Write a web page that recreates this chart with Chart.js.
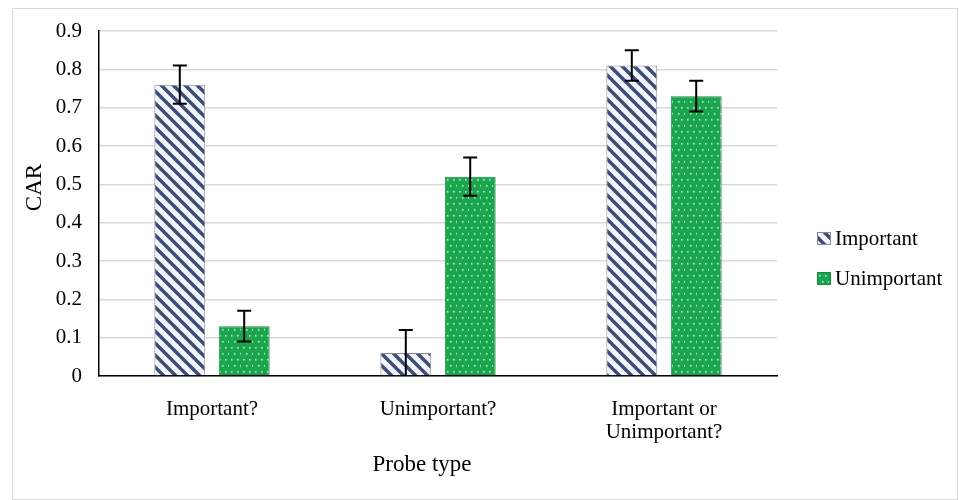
<!DOCTYPE html>
<html>
<head>
<meta charset="utf-8">
<script src="https://cdn.jsdelivr.net/npm/chart.js@4"></script>
<style>
  html, body { margin: 0; padding: 0; background: #fff; }
  #frame { position: absolute; left: 12px; top: 8px; width: 946px; height: 492px; border: 1px solid #d9d9d9; box-sizing: border-box; }
  canvas { display: block; }
</style>
</head>
<body>
<div id="frame"><canvas id="carChart" width="944" height="490"></canvas></div>
<script>
"use strict";
const categories = ['Important?', 'Unimportant?', ['Important or', 'Unimportant?']];
const seriesNames = ['Important', 'Unimportant'];
const importantVals = [0.76, 0.06, 0.81];
const importantErr = [0.05, 0.06, 0.04];
const unimportantVals = [0.13, 0.52, 0.73];
const unimportantErr = [0.04, 0.05, 0.04];
const yMax = 0.9;
const yStep = 0.1;
const xTitle = 'Probe type';
const yTitle = 'CAR';

const FONT = '"Liberation Serif", "Times New Roman", serif';

// diagonal hatch, navy stripes on a pale background
function makeHatch() {
    const c = document.createElement('canvas');
    c.width = 12; c.height = 12;
    const g = c.getContext('2d');
    g.fillStyle = '#f2f7ff';
    g.fillRect(0, 0, 12, 12);
    g.strokeStyle = '#3d4c77';
    g.lineWidth = 3.5;
    g.beginPath();
    g.moveTo(-3, -3); g.lineTo(15, 15);
    g.moveTo(-3, 9); g.lineTo(3, 15);
    g.moveTo(9, -3); g.lineTo(15, 3);
    g.stroke();
    return g.createPattern(c, 'repeat');
}

// green fill with small staggered light dots
function makeDots() {
    const c = document.createElement('canvas');
    c.width = 12; c.height = 12;
    const g = c.getContext('2d');
    g.fillStyle = '#1ca54f';
    g.fillRect(0, 0, 12, 12);
    g.fillStyle = '#b8ebc7';
    [[2, 2], [8, 2], [5, 8], [11, 8]].forEach(([px, py]) => g.fillRect(px, py, 1.6, 1.6));
    return g.createPattern(c, 'repeat');
}

const errorBars = {
    id: 'errorBars',
    afterDatasetsDraw(chart) {
        const ctx = chart.ctx;
        const yScale = chart.scales.y;
        const errs = [importantErr, unimportantErr];
        ctx.save();
        ctx.strokeStyle = '#000';
        ctx.lineWidth = 2;
        chart.data.datasets.forEach((ds, di) => {
            const meta = chart.getDatasetMeta(di);
            meta.data.forEach((bar, i) => {
                const v = ds.data[i], e = errs[di][i];
                const yTop = yScale.getPixelForValue(v + e);
                const yBot = yScale.getPixelForValue(Math.max(0, v - e));
                ctx.beginPath();
                ctx.moveTo(bar.x, yTop); ctx.lineTo(bar.x, yBot);
                ctx.moveTo(bar.x - 7, yTop); ctx.lineTo(bar.x + 7, yTop);
                if (v - e > 0) { ctx.moveTo(bar.x - 7, yBot); ctx.lineTo(bar.x + 7, yBot); }
                ctx.stroke();
            });
        });
        ctx.restore();
    }
};

// legend and axis titles drawn by hand: the reference places them off the usual spots
const sideLegend = {
    id: 'sideLegend',
    afterDraw(chart) {
        const ctx = chart.ctx;
        const area = chart.chartArea;
        const x = area.right + 40;
        const midY = chart.height / 2 + 5;
        ctx.save();
        ctx.font = '21px ' + FONT;
        ctx.textBaseline = 'middle';
        chart.data.datasets.forEach((ds, i) => {
            const y = midY + (i - 0.5) * 40;
            ctx.fillStyle = ds.backgroundColor;
            ctx.fillRect(x, y - 7, 14, 13);
            ctx.strokeStyle = ds.borderColor;
            ctx.lineWidth = 1;
            ctx.strokeRect(x + 0.5, y - 6.5, 13, 12);
            ctx.fillStyle = '#000';
            ctx.fillText(ds.label, x + 18, y);
        });
        ctx.font = '23px ' + FONT;
        ctx.textAlign = 'center';
        ctx.fillText(xTitle, (area.left + area.right) / 2 - 16, area.bottom + 89);
        ctx.translate(22, (area.top + area.bottom) / 2 - 16);
        ctx.rotate(-Math.PI / 2);
        ctx.fillText(yTitle, 0, 0);
        ctx.restore();
    }
};

const ctx = document.getElementById('carChart').getContext('2d');
new Chart(ctx, {
    type: 'bar',
    data: {
        labels: categories,
        datasets: [
            { label: seriesNames[0], data: importantVals, backgroundColor: makeHatch(), borderColor: '#8c8c8c', borderWidth: 1 },
            { label: seriesNames[1], data: unimportantVals, backgroundColor: makeDots(), borderColor: '#178a40', borderWidth: 1 }
        ]
    },
    options: {
        responsive: false,
        animation: false,
        categoryPercentage: 0.57,
        barPercentage: 0.79,
        layout: { padding: { top: 22, left: 0, right: 180, bottom: 0 } },
        plugins: {
            legend: { display: false },
            tooltip: { enabled: false }
        },
        scales: {
            x: {
                grid: { display: false },
                border: { color: '#000', width: 1.5 },
                ticks: { font: { family: FONT, size: 21, lineHeight: 1.1 }, color: '#000', padding: 14, maxRotation: 0 },
                afterFit(scale) { scale.height = 123; scale.paddingTop = 0; scale.paddingBottom = 0; }
            },
            y: {
                min: 0, max: yMax,
                grid: { color: '#d9d9d9', lineWidth: 1.5, drawTicks: false },
                border: { color: '#000', width: 1.5 },
                ticks: { stepSize: yStep, font: { family: FONT, size: 21 }, color: '#000', padding: 17,
                    callback: v => v === 0 ? '0' : v.toFixed(1) },
                afterFit(scale) { scale.width = 86; scale.paddingTop = 0; scale.paddingBottom = 0; }
            }
        }
    },
    plugins: [errorBars, sideLegend]
});
</script>
</body>
</html>
